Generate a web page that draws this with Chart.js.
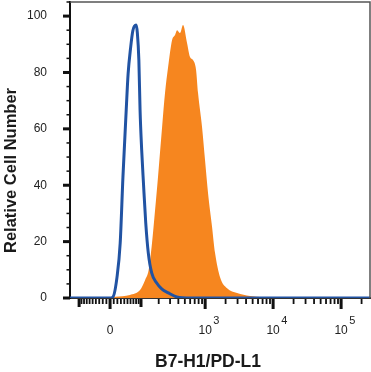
<!DOCTYPE html>
<html>
<head>
<meta charset="utf-8">
<script src="https://cdn.jsdelivr.net/npm/chart.js@4.4.1/dist/chart.umd.min.js"></script>
<style>
  html, body { margin: 0; padding: 0; background: #fff; }
  canvas { display: block; }
</style>
</head>
<body>
<canvas id="histChart" width="371" height="372"></canvas>
<script>
// flow histogram, B7-H1/PD-L1 staining vs isotype control
// x values are raw fluorescence intensities, shown on a logicle-like axis

const xMin = -145;
const xMax = 266000;
const yMax = 105;

// isotype control (blue outline)
const isotypeX = [-145, 0, 8, 19, 28, 36, 46, 52, 60, 68, 80, 85, 91, 96, 103, 111, 122, 135, 154, 186, 223, 282, 379, 600, 266000];
const isotypeY = [0, 0, 0.4, 7.4, 19.5, 42.9, 66.7, 79.5, 88.5, 94.8, 96.8, 94.0, 84.4, 66.7, 52.5, 40.8, 26.6, 16.0, 8.9, 5.3, 3.2, 1.8, 0.4, 0, 0];

// PD-L1 antibody (orange filled)
const stainedX = [-145, 0, 14, 58, 96, 119, 137, 156, 175, 195, 226, 251, 280, 322, 357, 383, 424, 470, 540, 598, 662, 734, 785, 900, 996, 1103, 1264, 1399, 1658, 2102, 2949, 4580, 7115, 12000, 266000];
const stainedY = [0, 0, 0.4, 1.1, 2.8, 6.4, 9.9, 19.5, 31.2, 42.9, 60.6, 72.7, 81.9, 91.5, 93.3, 95.0, 94.0, 96.8, 90.4, 85.5, 84.4, 80.9, 72.7, 60.6, 48.9, 37.2, 25.2, 16.0, 7.4, 3.5, 1.8, 0.7, 0.3, 0, 0];

// axis ticks
const yTickValues = [0, 20, 40, 60, 80, 100];
const yMinorTicks = [5, 10, 15, 25, 30, 35, 45, 50, 55, 65, 70, 75, 85, 90, 95, 105];
const xTickValues = [0, 1000, 10000, 100000];
const xTickLabels = ['0', '10', '10', '10'];
const xTickExponents = ['', '3', '4', '5'];
const xMidTicks = [-100, 100];
const xMinorTicks = [-90, -80, -70, -60, -50, -40, -30, -20, -10, 10, 20, 30, 40, 50, 60, 70, 80, 90,
    200, 300, 400, 500, 600, 700, 800, 900,
    2000, 3000, 4000, 5000, 6000, 7000, 8000, 9000,
    20000, 30000, 40000, 50000, 60000, 70000, 80000, 90000, 200000];

const xTitle = 'B7-H1/PD-L1';
const yTitle = 'Relative Cell Number';

const blue = '#2153a3';
const orange = '#f6861f';
const fontFamily = "'Liberation Sans', Arial, sans-serif";

// simple biexponential transform (asinh), linear near zero, log above ~10^2
const LOGICLE_C = 80;
function logicle(v) { return Math.asinh(v / LOGICLE_C) / Math.LN10; }
function logicleInverse(t) { return LOGICLE_C * Math.sinh(t * Math.LN10); }

class LogicleScale extends Chart.Scale {
    determineDataLimits() {
        const { min, max } = this.getMinMax(false);
        this.min = this.options.min ?? min;
        this.max = this.options.max ?? max;
    }
    buildTicks() {
        return (this.options.tickValues || []).map(value => ({ value }));
    }
    configure() {
        super.configure();
        this._startT = logicle(this.min);
        this._rangeT = logicle(this.max) - this._startT;
    }
    getPixelForValue(value) {
        return this.getPixelForDecimal((logicle(value) - this._startT) / this._rangeT);
    }
    getValueForPixel(pixel) {
        return logicleInverse(this._startT + this.getDecimalForPixel(pixel) * this._rangeT);
    }
    getLabelForValue(value) {
        return String(Math.round(value));
    }
}
LogicleScale.id = 'logicle';
LogicleScale.defaults = {};
Chart.register(LogicleScale);

function toPoints(xs, ys) {
    return xs.map((x, i) => ({ x: x, y: ys[i] }));
}

// ticks, frame, exponents and axis titles
const decorPlugin = {
    id: 'decor',
    beforeDatasetsDraw(chart) {
        const { ctx, chartArea: a, scales: { x, y } } = chart;
        ctx.save();
        ctx.fillStyle = '#111';
        yTickValues.forEach(v => {
            const py = y.getPixelForValue(v);
            ctx.fillRect(a.left - 7, py - 1.5, 7, 3);
        });
        yMinorTicks.forEach(v => {
            const py = y.getPixelForValue(v);
            ctx.fillRect(a.left - 3.5, py - 0.75, 3.5, 1.5);
        });
        xTickValues.forEach(v => {
            const px = x.getPixelForValue(v);
            ctx.fillRect(px - 1.5, a.bottom + 1, 3, 10);
        });
        xMidTicks.forEach(v => {
            const px = x.getPixelForValue(v);
            ctx.fillRect(px - 1.5, a.bottom + 1, 3, 8);
        });
        xMinorTicks.forEach(v => {
            const px = x.getPixelForValue(v);
            ctx.fillRect(px - 0.9, a.bottom + 1, 1.8, 5);
        });
        ctx.restore();
    },
    afterDraw(chart) {
        const { ctx, chartArea: a, scales: { x } } = chart;
        ctx.save();
        // top and right frame
        ctx.strokeStyle = '#555';
        ctx.lineWidth = 1.5;
        ctx.beginPath();
        ctx.moveTo(a.left, a.top);
        ctx.lineTo(a.right, a.top);
        ctx.lineTo(a.right, a.bottom);
        ctx.stroke();

        // exponents after the "10" labels
        ctx.fillStyle = '#222';
        ctx.textAlign = 'left';
        ctx.textBaseline = 'alphabetic';
        xTickValues.forEach((v, i) => {
            if (!xTickExponents[i]) return;
            ctx.font = '12px ' + fontFamily;
            const w = ctx.measureText(xTickLabels[i]).width;
            const px = x.getPixelForValue(v);
            ctx.font = '11px ' + fontFamily;
            ctx.fillText(xTickExponents[i], px + w / 2 + 1.5, 324);
        });

        // axis titles
        ctx.fillStyle = '#1a1a1a';
        ctx.font = 'bold 17.5px ' + fontFamily;
        ctx.textAlign = 'center';
        ctx.fillText(xTitle, 208, 367);

        ctx.translate(16, 170.5);
        ctx.rotate(-Math.PI / 2);
        ctx.font = 'bold 16.5px ' + fontFamily;
        ctx.fillText(yTitle, 0, 0);
        ctx.restore();
    }
};

const histCtx = document.getElementById('histChart');
new Chart(histCtx, {
    type: 'line',
    data: {
        datasets: [{
            label: 'Isotype control',
            data: toPoints(isotypeX, isotypeY),
            borderColor: blue,
            borderWidth: 3,
            pointRadius: 0,
            fill: false,
            cubicInterpolationMode: 'monotone',
            order: 0
        }, {
            label: 'B7-H1/PD-L1',
            data: toPoints(stainedX, stainedY),
            borderWidth: 0,
            borderColor: orange,
            backgroundColor: orange,
            pointRadius: 0,
            fill: 'origin',
            cubicInterpolationMode: 'monotone',
            order: 1
        }]
    },
    options: {
        responsive: false,
        animation: false,
        layout: { padding: { top: 2, right: 1, left: 0, bottom: 0 } },
        plugins: {
            legend: { display: false },
            tooltip: { enabled: false }
        },
        scales: {
            x: {
                type: 'logicle',
                position: 'bottom',
                min: xMin,
                max: xMax,
                tickValues: xTickValues,
                grid: { display: false },
                border: { display: true, color: '#333', width: 2 },
                ticks: {
                    padding: 17,
                    color: '#222',
                    font: { family: fontFamily, size: 12 },
                    maxRotation: 0,
                    autoSkip: false,
                    callback: function(value, index) {
                        return xTickLabels[index];
                    }
                },
                afterFit: function(axis) {
                    axis.height = 74;
                }
            },
            y: {
                type: 'linear',
                min: 0,
                max: yMax,
                grid: { display: false },
                border: { display: true, color: '#111', width: 2 },
                ticks: {
                    padding: 15,
                    color: '#222',
                    font: { family: fontFamily, size: 12 }
                },
                afterBuildTicks: function(axis) {
                    axis.ticks = yTickValues.map(value => ({ value }));
                },
                afterFit: function(axis) {
                    axis.width = 70;
                    axis.paddingTop = 0;
                    axis.paddingBottom = 0;
                }
            }
        }
    },
    plugins: [decorPlugin]
});
</script>
</body>
</html>
